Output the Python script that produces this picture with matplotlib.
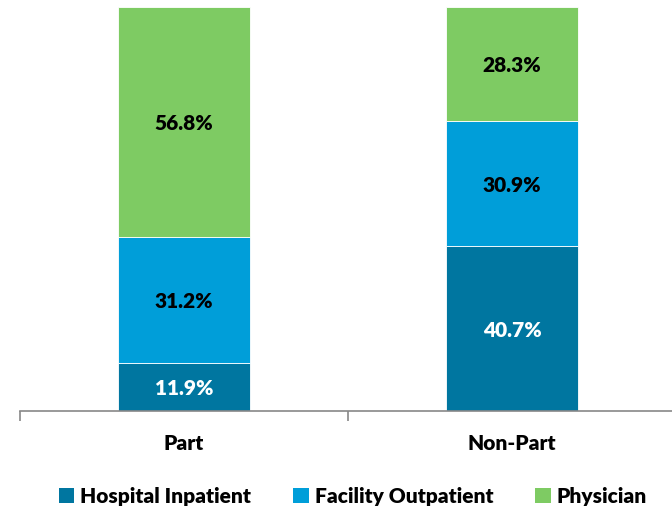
import matplotlib
matplotlib.use("Agg")
import matplotlib.pyplot as plt
from matplotlib.patches import Patch

categories = ["Part", "Non-Part"]
series_names = ["Hospital Inpatient", "Facility Outpatient", "Physician"]
hospital_inpatient = [11.9, 40.7]
facility_outpatient = [31.2, 30.9]
physician = [56.8, 28.3]
colors = ["#0076A0", "#009ED9", "#7ECB63"]
label_colors = ["white", "black", "black"]


def main():
    plt.rcParams['font.family'] = ['Lato', 'DejaVu Sans']
    fig = plt.figure(figsize=(6.72, 5.08), dpi=100)
    ax = fig.add_axes([20 / 672, 97 / 508, 656 / 672, 404 / 508])

    x = list(range(len(categories)))
    bottoms = [0.0] * len(categories)
    for values, col, lcol in zip([hospital_inpatient, facility_outpatient, physician], colors, label_colors):
        bars = ax.bar(x, values, width=0.4, bottom=bottoms, color=col,
                      edgecolor="white", linewidth=0.6)
        for b, v, bt in zip(bars, values, bottoms):
            ax.text(b.get_x() + b.get_width() / 2, bt + v / 2 - 0.4, f"{v:.1f}%",
                    ha="center", va="center", color=lcol,
                    fontsize=15, fontweight="heavy")
        bottoms = [bt + v for bt, v in zip(bottoms, values)]

    ax.set_xlim(-0.5, 1.5)
    ax.set_ylim(0, max(bottoms))
    for s in ["top", "right", "left"]:
        ax.spines[s].set_visible(False)
    ax.spines["bottom"].set_color("#888888")
    ax.spines["bottom"].set_linewidth(1.2)
    ax.set_yticks([])
    ax.set_xticks([-0.5, 0.5, 1.5])
    ax.set_xticklabels([])
    ax.tick_params(axis="x", length=7, color="#888888", width=1.2)
    for xi, c in zip(x, categories):
        ax.text(xi, -32 / 404 * max(bottoms), c, ha="center", va="center",
                fontsize=15, fontweight="heavy", clip_on=False)

    handles = [Patch(facecolor=c, edgecolor="none") for c in colors]
    fig.legend(handles, series_names, loc="center", bbox_to_anchor=(0.525, 12 / 508),
               ncol=3, frameon=False, prop={"size": 15, "weight": "heavy"},
               handlelength=0.75, handleheight=0.75, handletextpad=0.3, columnspacing=2.0)

    fig.savefig("out.png", dpi=100)


if __name__ == "__main__":
    main()
